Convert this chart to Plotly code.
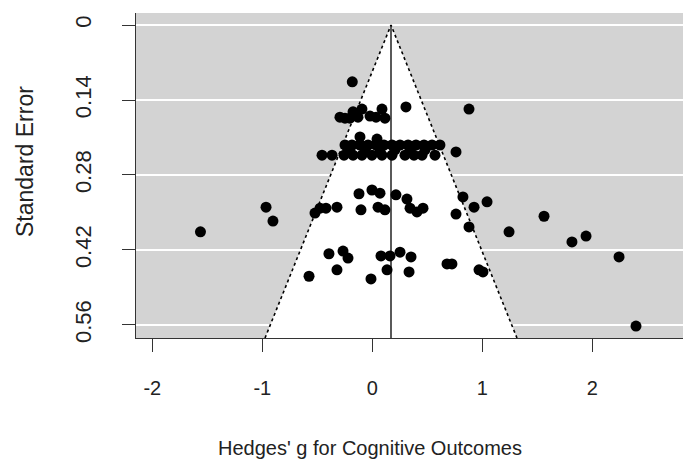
import plotly.graph_objects as go

# Study effect sizes (Hedges' g) and standard errors
hedges_g = [
    -0.182,
    -0.248, -0.175, -0.094, -0.021, 0.088, 0.115, 0.306, 0.879, -0.294, -0.203, -0.130, 0.034,
    -0.112, 0.043,
    -0.248, -0.185, -0.112, -0.039, 0.034, 0.106, 0.179, 0.252, 0.325, 0.397, 0.470, 0.543, 0.615,
    -0.203, -0.066, 0.070, 0.206, 0.343, 0.479,
    -0.457, -0.366, -0.257, -0.175, -0.094, -0.003, 0.088, 0.179, 0.297, 0.379, 0.452, 0.570,
    0.761,
    -0.521, -0.475, -0.421, -0.321, -0.121, -0.103, -0.003, 0.070, 0.052, 0.115, 0.215, 0.315,
    0.343, 0.406, 0.461, 0.761, 0.824, 0.925, 0.879, 1.043, 1.243, 1.561, 1.815, 1.943, 2.243,
    2.397, -0.966, -0.903, -1.562,
    -0.575, -0.394, -0.321, -0.266, -0.221, -0.012, 0.079, 0.161, 0.252, 0.352, 0.134, 0.334,
    0.679, 0.724, 0.970, 1.006,
]
std_error = [
    0.106,
    0.174, 0.162, 0.157, 0.170, 0.157, 0.174, 0.153, 0.157, 0.172, 0.174, 0.172, 0.172,
    0.209, 0.213,
    0.224, 0.224, 0.224, 0.224, 0.224, 0.224, 0.224, 0.224, 0.224, 0.224, 0.224, 0.224, 0.224,
    0.233, 0.233, 0.233, 0.233, 0.233, 0.233,
    0.243, 0.243, 0.243, 0.243, 0.243, 0.243, 0.243, 0.243, 0.243, 0.243, 0.243, 0.243,
    0.237,
    0.351, 0.342, 0.342, 0.340, 0.315, 0.345, 0.308, 0.314, 0.340, 0.345, 0.317, 0.325,
    0.342, 0.349, 0.342, 0.353, 0.321, 0.340, 0.377, 0.330, 0.386, 0.357, 0.405, 0.394, 0.433,
    0.562, 0.340, 0.366, 0.386,
    0.469, 0.427, 0.457, 0.422, 0.435, 0.474, 0.431, 0.431, 0.424, 0.433, 0.457, 0.461,
    0.446, 0.446, 0.457, 0.461,
]

pooled_estimate = 0.17
z_crit = 1.96
x_ticks = [-2, -1, 0, 1, 2]
x_tick_labels = ["-2", "-1", "0", "1", "2"]
y_ticks = [0, 0.14, 0.28, 0.42, 0.56]
y_tick_labels = ["0", "0.14", "0.28", "0.42", "0.56"]
x_range = [-2.148, 2.888]
y_range = [0.5843, -0.0224]

se_max = y_range[0]
funnel_x = [pooled_estimate - z_crit * se_max, pooled_estimate, pooled_estimate + z_crit * se_max]
funnel_y = [se_max, 0, se_max]

FONT = "Liberation Sans, Arial, sans-serif"
TXT = "#222222"

fig = go.Figure()

# white funnel region
fig.add_trace(go.Scatter(
    x=funnel_x, y=funnel_y, mode="lines", fill="toself", fillcolor="white",
    line=dict(color="rgba(0,0,0,0)", width=0), hoverinfo="skip", showlegend=False))
# dotted funnel boundaries
fig.add_trace(go.Scatter(
    x=funnel_x, y=funnel_y, mode="lines",
    line=dict(color="black", width=1.6, dash="dot"), hoverinfo="skip", showlegend=False))
# vertical reference line at pooled estimate
fig.add_trace(go.Scatter(
    x=[pooled_estimate, pooled_estimate], y=[0, se_max], mode="lines",
    line=dict(color="black", width=1.3), hoverinfo="skip", showlegend=False))
# studies
fig.add_trace(go.Scatter(
    x=hedges_g, y=std_error, mode="markers",
    marker=dict(color="black", size=11, line=dict(width=0)), showlegend=False))

# page body has an 8px margin, so the figure is 8px smaller and margins reduced
fig.update_layout(
    width=683, height=458,
    margin=dict(l=128, r=1, t=5, b=128),
    paper_bgcolor="white", plot_bgcolor="#d3d3d3",
    font=dict(family=FONT, size=20, color=TXT),
    xaxis=dict(range=x_range, tickmode="array", tickvals=x_ticks, ticktext=x_tick_labels,
               showgrid=False, zeroline=False, showline=True, linecolor="#333333", linewidth=1.3,
               ticks="outside", ticklen=13, tickwidth=1.3, tickcolor="#333333",
               ticklabelstandoff=19, tickfont=dict(size=20, color=TXT)),
    yaxis=dict(range=y_range, tickmode="array", tickvals=y_ticks, ticktext=y_tick_labels,
               showgrid=True, gridcolor="white", gridwidth=2, zeroline=False,
               showline=True, linecolor="#333333", linewidth=1.3,
               ticks="outside", ticklen=13, tickwidth=1.3, tickcolor="#333333",
               tickangle=-90, ticklabelstandoff=22, tickfont=dict(size=22, color=TXT)),
    annotations=[
        dict(text="Hedges' g for Cognitive Outcomes", xref="paper", yref="paper",
             x=(370 - 136) / 554, y=(338 - 448) / 325, xanchor="center", yanchor="middle",
             showarrow=False, font=dict(size=20, color=TXT, family=FONT)),
        dict(text="Standard Error", xref="paper", yref="paper",
             x=(25 - 136) / 554, y=(338 - 162) / 325, xanchor="center", yanchor="middle",
             textangle=-90, showarrow=False, font=dict(size=23, color=TXT, family=FONT)),
    ],
)

fig.write_html("out.html")
